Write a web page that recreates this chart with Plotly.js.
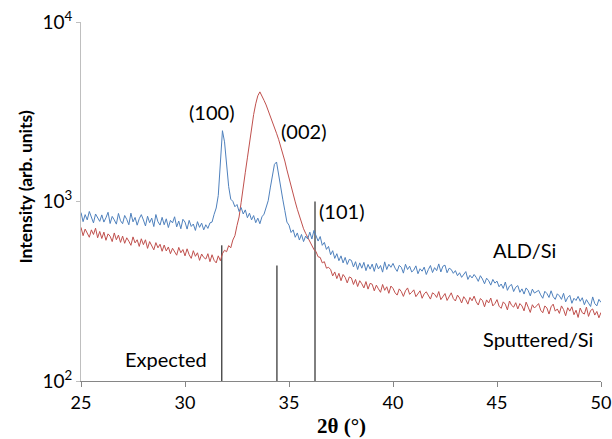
<!DOCTYPE html>
<html>
<head>
<meta charset="utf-8">
<script src="https://cdn.plot.ly/plotly-3.0.1.min.js"></script>
<style>html,body{margin:0;padding:0;background:#fff;}#chart{width:612px;height:439px;}</style>
</head>
<body>
<div id="chart"></div>
<script>
// 2-theta grid: 25.0 to 50.0 in 0.1 degree steps
const thetaStart = 25.0;
const thetaStep = 0.1;

// ALD/Si intensity (arb. units)
const aldSi = [
868, 772, 845, 790, 880, 805, 760, 852, 818, 775,
842, 768, 812, 871, 754, 826, 790, 748, 858, 781,
752, 836, 795, 742, 861, 770, 815, 738, 802, 845,
789, 731, 828, 762, 808, 725, 846, 771, 739, 816,
742, 801, 716, 785, 760, 822, 722, 778, 705, 796,
768, 702, 785, 726, 749, 690, 772, 718, 758, 695,
742, 708, 760, 768, 848, 920, 1080, 1620, 2480, 2150,
1530, 1210, 1030, 1002, 935, 962, 880, 925, 852, 898,
812, 861, 790, 835, 762, 808, 752, 822, 850, 915,
1010, 1190, 1410, 1610, 1660, 1440, 1240, 1030, 890, 768,
738, 672, 695, 632, 668, 610, 655, 598, 642, 618,
675, 618, 690, 645, 602, 638, 570, 592, 541, 562,
505, 532, 482, 512, 468, 498, 455, 488, 446, 476,
470, 432, 462, 418, 455, 425, 458, 412, 446, 420,
448, 408, 452, 421, 440, 404, 461, 418, 447, 430,
452, 425, 408, 441, 430, 399, 447, 418, 436, 405,
415, 438, 396, 422, 409, 431, 392, 418, 440, 402,
428, 412, 449, 405, 436, 442, 401, 425, 418, 398,
412, 386, 401, 378, 395, 407, 368, 388, 375, 392,
378, 359, 386, 370, 348, 374, 362, 342, 368, 351,
360, 335, 347, 328, 356, 320, 338, 345, 315, 333,
340, 312, 326, 305, 330, 319, 298, 325, 309, 316,
320, 302, 289, 316, 307, 292, 318, 295, 285, 306,
298, 285, 308, 276, 292, 300, 271, 289, 281, 296,
278, 291, 266, 284, 273, 260, 294, 270, 262, 285,
274
];

// Sputtered/Si intensity (arb. units)
const sputteredSi = [
718, 645, 702, 668, 632, 695, 655, 710, 628, 681,
622, 675, 608, 660, 641, 598, 668, 612, 650, 592,
642, 585, 628, 601, 570, 635, 588, 612, 562, 620,
575, 612, 548, 598, 566, 538, 590, 552, 578, 528,
572, 530, 558, 512, 549, 525, 502, 555, 518, 540,
498, 545, 505, 482, 532, 495, 518, 470, 510, 488,
478, 512, 462, 505, 470, 455, 498, 468, 512, 535,
525, 568, 552, 610, 645, 735, 820, 990, 1165, 1455,
1750, 2150, 2600, 3050, 3500, 3880, 4080, 3900, 3660, 3450,
3220, 3000, 2790, 2600, 2400, 2220, 2040, 1850, 1680, 1500,
1340, 1210, 1095, 995, 905, 830, 760, 705, 665, 630,
598, 575, 540, 525, 492, 488, 455, 462, 425, 430,
418, 385, 405, 372, 398, 362, 392, 378, 352, 380,
375, 345, 368, 336, 362, 348, 330, 358, 325, 350,
346, 318, 342, 326, 312, 345, 320, 335, 308, 338,
328, 310, 301, 326, 315, 296, 318, 330, 304, 312,
322, 295, 308, 318, 289, 306, 314, 298, 286, 310,
304, 292, 315, 284, 298, 307, 281, 296, 310, 288,
279, 301, 290, 272, 295, 284, 268, 292, 280, 297,
276, 265, 288, 281, 259, 283, 272, 290, 262, 270,
284, 261, 254, 276, 268, 249, 279, 264, 258, 273,
252, 270, 262, 246, 275, 258, 241, 266, 255, 262,
270, 248, 240, 262, 255, 236, 259, 268, 245, 252,
238, 262, 250, 231, 256, 245, 259, 234, 248, 226,
255, 240, 236, 258, 229, 247, 252, 233, 244, 225,
241
];

// Expected (reference) peak positions and heights
const expectedPos = [31.77, 34.42, 36.25];
const expectedHeight = [570, 440, 1000];
const expectedBase = 100;

// Tick labels
const yTickVals = [100, 1000, 10000];
const yTickText = ['10<sup>2</sup>', '10<sup>3</sup>', '10<sup>4</sup>'];

const theta = aldSi.map((_, i) => +(thetaStart + i * thetaStep).toFixed(2));

const expX = [], expY = [];
expectedPos.forEach((p, i) => { expX.push(p, p, null); expY.push(expectedBase, expectedHeight[i], null); });

const traces = [
  {x: expX, y: expY, type: 'scatter', mode: 'lines', line: {color: '#000000', width: 1}, hoverinfo: 'skip'},
  {x: theta, y: sputteredSi, type: 'scatter', mode: 'lines', name: 'Sputtered/Si', line: {color: '#C0504D', width: 1}},
  {x: theta, y: aldSi, type: 'scatter', mode: 'lines', name: 'ALD/Si', line: {color: '#4F81BD', width: 1}}
];

const annFont = {family: 'Lato, sans-serif', size: 20, color: '#000'};
const lg = Math.log10;
const layout = {
  width: 612, height: 439,
  margin: {l: 81, r: 11, t: 22, b: 58},
  paper_bgcolor: '#ffffff', plot_bgcolor: '#ffffff',
  showlegend: false,
  xaxis: {
    range: [25, 50], tick0: 25, dtick: 5,
    showline: true, linecolor: '#868686', linewidth: 1,
    ticks: 'outside', ticklen: 5, tickcolor: '#868686',
    showgrid: false, zeroline: false,
    ticklabeloverflow: 'allow',
    tickfont: {family: 'Lato, sans-serif', size: 18, color: '#000'}
  },
  yaxis: {
    type: 'log', range: [2, 4],
    tickvals: yTickVals, ticktext: yTickText,
    showline: true, linecolor: '#BFBFBF', linewidth: 1,
    ticks: 'outside', ticklen: 4, tickcolor: '#BFBFBF',
    showgrid: false, zeroline: false,
    tickfont: {family: 'Lato, sans-serif', size: 19, color: '#000'}
  },
  annotations: [
    {xref: 'paper', yref: 'paper', x: -0.107, y: 0.54, xanchor: 'center', yanchor: 'middle', textangle: -90, showarrow: false,
     text: '<b>Intensity (arb. units)</b>', font: {family: 'Lato, sans-serif', size: 17.5, color: '#000'}},
    {xref: 'paper', yref: 'paper', x: 0.5, y: -0.125, xanchor: 'center', yanchor: 'middle', showarrow: false,
     text: '<b>2θ (°)</b>', font: {family: 'Liberation Serif, serif', size: 21, color: '#000'}},
    {x: 31.29, y: lg(3150), text: '(100)', showarrow: false, font: annFont},
    {x: 35.71, y: lg(2470), text: '(002)', showarrow: false, font: annFont},
    {x: 37.52, y: lg(885), text: '(101)', showarrow: false, font: annFont},
    {x: 46.33, y: lg(537), text: 'ALD/Si', showarrow: false, font: annFont},
    {x: 46.95, y: lg(171), text: 'Sputtered/Si', showarrow: false, font: annFont},
    {x: 29.1, y: lg(133), text: 'Expected', showarrow: false, font: annFont}
  ]
};

Plotly.newPlot('chart', traces, layout, {displayModeBar: false, staticPlot: true});
</script>
</body>
</html>
